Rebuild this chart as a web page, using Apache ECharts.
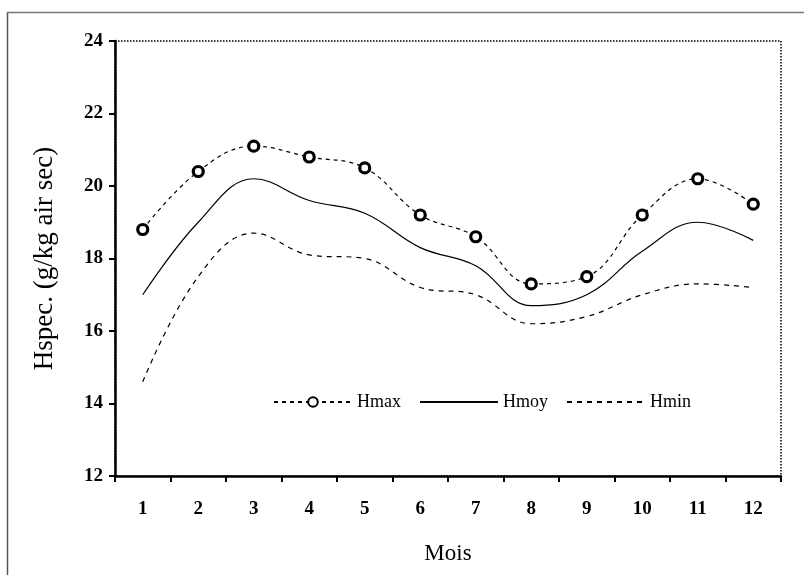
<!DOCTYPE html>
<html>
<head>
<meta charset="utf-8">
<script src="https://cdn.jsdelivr.net/npm/echarts@6/dist/echarts.min.js"></script>
<style>
  html, body { margin: 0; padding: 0; background: #fff; }
  #chart { width: 804px; height: 575px; }
</style>
</head>
<body>
<div id="chart"></div>
<script>
const mois = ['1', '2', '3', '4', '5', '6', '7', '8', '9', '10', '11', '12'];
const hmax = [18.8, 20.4, 21.1, 20.8, 20.5, 19.2, 18.6, 17.3, 17.5, 19.2, 20.2, 19.5];
const hmoy = [17.0, 19.0, 20.2, 19.6, 19.25, 18.3, 17.8, 16.7, 17.0, 18.2, 19.0, 18.5];
const hmin = [14.6, 17.5, 18.7, 18.1, 18.0, 17.2, 17.0, 16.2, 16.4, 17.0, 17.3, 17.2];
const yTicks = {min: 12, max: 24, step: 2};

const serif = 'Liberation Serif';

let chart = echarts.init(document.getElementById('chart'));
chart.setOption({
    animation: false,
    textStyle: { fontFamily: serif, color: '#000' },
    graphic: [
        { type: 'line', shape: { x1: 7.5, y1: 12, x2: 7.5, y2: 575 }, style: { stroke: '#555', lineWidth: 1.5 } },
        { type: 'line', shape: { x1: 7, y1: 12.5, x2: 804, y2: 12.5 }, style: { stroke: '#777', lineWidth: 1.5 } }
    ],
    grid: {
        left: 115,
        top: 41,
        right: 23,
        bottom: 99,
        show: true,
        borderColor: '#000',
        borderWidth: 1.5,
        borderType: 'dotted'
    },
    legend: {
        left: 268,
        top: 388,
        itemWidth: 78,
        itemHeight: 12,
        itemGap: 18,
        textStyle: { fontFamily: serif, fontSize: 18, color: '#000' },
        data: [
            { name: 'Hmax' },
            { name: 'Hmoy', itemStyle: { opacity: 0 } },
            { name: 'Hmin', itemStyle: { opacity: 0 } }
        ]
    },
    xAxis: {
        type: 'category',
        data: mois,
        boundaryGap: true,
        name: 'Mois',
        nameLocation: 'middle',
        nameGap: 66,
        nameTextStyle: { fontFamily: serif, fontSize: 23, color: '#000' },
        axisLine: { lineStyle: { color: '#000', width: 2.5 } },
        axisTick: { show: true, length: 6, lineStyle: { color: '#000', width: 2 } },
        axisLabel: { fontFamily: serif, fontSize: 19, fontWeight: 'bold', color: '#000', margin: 24 },
        splitLine: { show: false }
    },
    yAxis: {
        type: 'value',
        min: yTicks.min,
        max: yTicks.max,
        interval: yTicks.step,
        name: 'Hspec. (g/kg air sec)',
        nameLocation: 'middle',
        nameGap: 57,
        nameTextStyle: { fontFamily: serif, fontSize: 27, color: '#000' },
        axisLine: { show: true, lineStyle: { color: '#000', width: 2.5 } },
        axisTick: { show: true, length: 6, lineStyle: { color: '#000', width: 2 } },
        axisLabel: { fontFamily: serif, fontSize: 19, fontWeight: 'bold', color: '#000', margin: 12 },
        splitLine: { show: false }
    },
    series: [
        {
            name: 'Hmax',
            type: 'line',
            smooth: 0.4,
            data: hmax,
            symbol: 'circle',
            symbolSize: 10,
            itemStyle: { color: '#fff', borderColor: '#000', borderWidth: 3.2 },
            lineStyle: { color: '#000', width: 1.2, type: [4, 4] }
        },
        {
            name: 'Hmoy',
            type: 'line',
            smooth: 0.4,
            data: hmoy,
            symbol: 'none',
            itemStyle: { color: '#000' },
            lineStyle: { color: '#000', width: 1.2 }
        },
        {
            name: 'Hmin',
            type: 'line',
            smooth: 0.4,
            data: hmin,
            symbol: 'none',
            itemStyle: { color: '#000' },
            lineStyle: { color: '#000', width: 1.2, type: [5, 5] }
        }
    ]
});
</script>
</body>
</html>
